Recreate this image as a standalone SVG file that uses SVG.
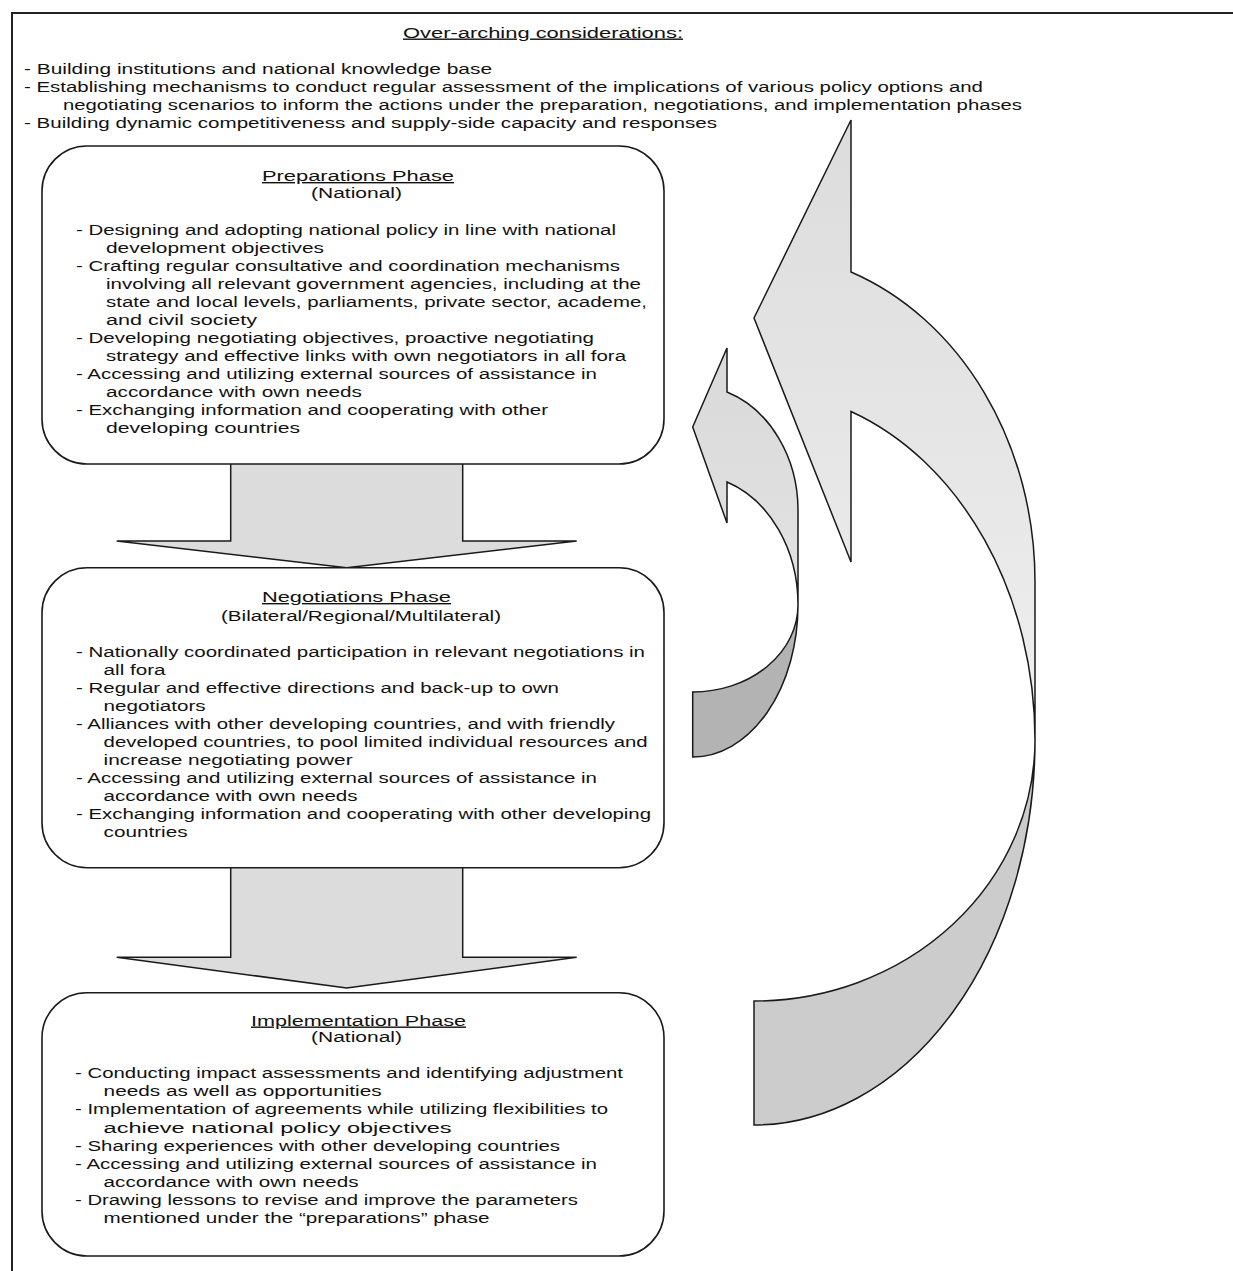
<svg xmlns="http://www.w3.org/2000/svg" width="1233" height="1271" viewBox="0 0 1233 1271">
<defs>
<style>
.t{font-family:"Liberation Sans",Arial,sans-serif;font-size:14px;fill:#111;}
.h{text-decoration:underline;}
.box{fill:#fff;stroke:#1a1a1a;stroke-width:1.6;}
.blk{fill:#dcdcdc;stroke:#1a1a1a;stroke-width:1.5;stroke-linejoin:miter;}
.ol{stroke:#1a1a1a;stroke-width:1.5;stroke-linejoin:miter;}
</style>
<linearGradient id="gBig" gradientUnits="userSpaceOnUse" x1="0" y1="120" x2="0" y2="740">
<stop offset="0" stop-color="#dcdcdc"/><stop offset="1" stop-color="#efefef"/>
</linearGradient>
<linearGradient id="gSmall" gradientUnits="userSpaceOnUse" x1="0" y1="348" x2="0" y2="605">
<stop offset="0" stop-color="#d9d9d9"/><stop offset="1" stop-color="#e3e3e3"/>
</linearGradient>
</defs>
<rect width="1233" height="1271" fill="#fff"/>

<g id="frame" fill="none" stroke="#222" stroke-width="2">
<path d="M12 1271 V13 H1233"/>
</g>

<g id="considerations">
<text class="t h" x="403" y="37.5" textLength="280" lengthAdjust="spacingAndGlyphs">Over-arching considerations:</text>
<text class="t" x="24" y="73.5" textLength="468" lengthAdjust="spacingAndGlyphs">- Building institutions and national knowledge base</text>
<text class="t" x="24" y="92" textLength="959" lengthAdjust="spacingAndGlyphs">- Establishing mechanisms to conduct regular assessment of the implications of various policy options and</text>
<text class="t" x="63" y="110" textLength="959" lengthAdjust="spacingAndGlyphs">negotiating scenarios to inform the actions under the preparation, negotiations, and implementation phases</text>
<text class="t" x="24" y="128" textLength="693" lengthAdjust="spacingAndGlyphs">- Building dynamic competitiveness and supply-side capacity and responses</text>
</g>

<g id="connectors">
<polygon class="blk" points="230.7,450 462.7,450 462.7,541 576.7,541 346.7,567.7 116.7,541 230.7,541"/>
<polygon class="blk" points="230.7,850 462.7,850 462.7,957.3 576.7,957.3 346.7,988 116.7,957.3 230.7,957.3"/>
<g id="feedback-small">
<path class="ol" fill="url(#gSmall)" d="M727 348 L727 392 A105.3 125 0 0 1 798 510 L798 605 A105.3 130 0 0 0 727 482 L727 523 L692.7 427 Z"/>
<path class="ol" fill="#b3b3b3" d="M798 605 A105.3 152 0 0 1 692.7 757 L692.7 692 A105.3 87 0 0 0 798 605 Z"/>
</g>
<g id="feedback-big">
<path class="ol" fill="url(#gBig)" d="M851 120 L851 272 A281 330 0 0 1 1035 582 L1035 740 A281 350 0 0 0 851 411.5 L851 562 L754 318 Z"/>
<path class="ol" fill="#cccccc" d="M1035 740 A281 385 0 0 1 754 1125 L754 1001 A281 261 0 0 0 1035 740 Z"/>
</g>
</g>

<g id="preparations">
<rect class="box" x="42" y="146" width="622" height="318" rx="45" ry="45"/>
<text class="t h" x="262" y="181" textLength="192" lengthAdjust="spacingAndGlyphs">Preparations Phase</text>
<text class="t" x="311" y="198" textLength="91" lengthAdjust="spacingAndGlyphs">(National)</text>
<text class="t" x="76" y="234.5" textLength="540" lengthAdjust="spacingAndGlyphs">- Designing and adopting national policy in line with national</text>
<text class="t" x="106" y="252.5" textLength="218" lengthAdjust="spacingAndGlyphs">development objectives</text>
<text class="t" x="76" y="270.5" textLength="544" lengthAdjust="spacingAndGlyphs">- Crafting regular consultative and coordination mechanisms</text>
<text class="t" x="106" y="288.5" textLength="535" lengthAdjust="spacingAndGlyphs">involving all relevant government agencies, including at the</text>
<text class="t" x="106" y="306.5" textLength="541" lengthAdjust="spacingAndGlyphs">state and local levels, parliaments, private sector, academe,</text>
<text class="t" x="106" y="324.5" textLength="151" lengthAdjust="spacingAndGlyphs">and civil society</text>
<text class="t" x="76" y="342.5" textLength="518" lengthAdjust="spacingAndGlyphs">- Developing negotiating objectives, proactive negotiating</text>
<text class="t" x="106" y="360.5" textLength="520" lengthAdjust="spacingAndGlyphs">strategy and effective links with own negotiators in all fora</text>
<text class="t" x="76" y="378.5" textLength="521" lengthAdjust="spacingAndGlyphs">- Accessing and utilizing external sources of assistance in</text>
<text class="t" x="106" y="396.5" textLength="256" lengthAdjust="spacingAndGlyphs">accordance with own needs</text>
<text class="t" x="76" y="414.5" textLength="472" lengthAdjust="spacingAndGlyphs">- Exchanging information and cooperating with other</text>
<text class="t" x="106" y="432.5" textLength="194" lengthAdjust="spacingAndGlyphs">developing countries</text>
</g>

<g id="negotiations">
<rect class="box" x="42" y="567.7" width="622" height="300" rx="45" ry="45"/>
<text class="t h" x="262" y="602" textLength="189" lengthAdjust="spacingAndGlyphs">Negotiations Phase</text>
<text class="t" x="221" y="621" textLength="280" lengthAdjust="spacingAndGlyphs">(Bilateral/Regional/Multilateral)</text>
<text class="t" x="76" y="657" textLength="569" lengthAdjust="spacingAndGlyphs">- Nationally coordinated participation in relevant negotiations in</text>
<text class="t" x="103.6" y="675" textLength="62" lengthAdjust="spacingAndGlyphs">all fora</text>
<text class="t" x="76" y="693" textLength="483" lengthAdjust="spacingAndGlyphs">- Regular and effective directions and back-up to own</text>
<text class="t" x="103.6" y="711" textLength="102" lengthAdjust="spacingAndGlyphs">negotiators</text>
<text class="t" x="76" y="729" textLength="539" lengthAdjust="spacingAndGlyphs">- Alliances with other developing countries, and with friendly</text>
<text class="t" x="103.6" y="746.5" textLength="544" lengthAdjust="spacingAndGlyphs">developed countries, to pool limited individual resources and</text>
<text class="t" x="103.6" y="764.5" textLength="249" lengthAdjust="spacingAndGlyphs">increase negotiating power</text>
<text class="t" x="76" y="782.5" textLength="521" lengthAdjust="spacingAndGlyphs">- Accessing and utilizing external sources of assistance in</text>
<text class="t" x="103.6" y="800.5" textLength="254" lengthAdjust="spacingAndGlyphs">accordance with own needs</text>
<text class="t" x="76" y="818.5" textLength="575" lengthAdjust="spacingAndGlyphs">- Exchanging information and cooperating with other developing</text>
<text class="t" x="103.6" y="836.5" textLength="84" lengthAdjust="spacingAndGlyphs">countries</text>
</g>

<g id="implementation">
<rect class="box" x="42" y="992.7" width="622" height="263.3" rx="45" ry="45"/>
<text class="t h" x="251" y="1025.5" textLength="215" lengthAdjust="spacingAndGlyphs">Implementation Phase</text>
<text class="t" x="311" y="1042" textLength="91" lengthAdjust="spacingAndGlyphs">(National)</text>
<text class="t" x="75" y="1078" textLength="548" lengthAdjust="spacingAndGlyphs">- Conducting impact assessments and identifying adjustment</text>
<text class="t" x="103.6" y="1096" textLength="278" lengthAdjust="spacingAndGlyphs">needs as well as opportunities</text>
<text class="t" x="75" y="1114" textLength="533" lengthAdjust="spacingAndGlyphs">- Implementation of agreements while utilizing flexibilities to</text>
<text class="t" x="103.6" y="1132.5" textLength="348" lengthAdjust="spacingAndGlyphs">achieve national policy objectives</text>
<text class="t" x="75" y="1150.5" textLength="485" lengthAdjust="spacingAndGlyphs">- Sharing experiences with other developing countries</text>
<text class="t" x="75" y="1168.5" textLength="522" lengthAdjust="spacingAndGlyphs">- Accessing and utilizing external sources of assistance in</text>
<text class="t" x="103.6" y="1186.5" textLength="255" lengthAdjust="spacingAndGlyphs">accordance with own needs</text>
<text class="t" x="75" y="1204.5" textLength="503" lengthAdjust="spacingAndGlyphs">- Drawing lessons to revise and improve the parameters</text>
<text class="t" x="103.6" y="1222.5" textLength="386" lengthAdjust="spacingAndGlyphs">mentioned under the “preparations” phase</text>
</g>
</svg>
